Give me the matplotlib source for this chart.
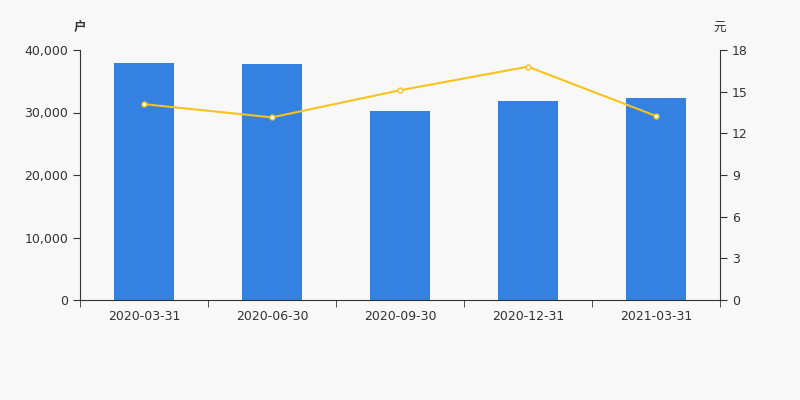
import matplotlib.pyplot as plt
import numpy as np
from matplotlib.ticker import FuncFormatter, FixedLocator

plt.rcParams['font.family'] = ['DejaVu Sans', 'Noto Sans CJK SC']

dates = ['2020-03-31', '2020-06-30', '2020-09-30', '2020-12-31', '2021-03-31']
holders = [38000, 37750, 30300, 31850, 32300]
price = [14.1, 13.15, 15.1, 16.8, 13.25]

fig = plt.figure(figsize=(8, 4), dpi=100, facecolor='#f8f8f8')
ax = fig.add_axes([0.1, 0.25, 0.8, 0.625])
ax.set_facecolor('#f8f8f8')
x = np.arange(len(dates))
ax.bar(x, holders, width=0.47, color='#3481e2', zorder=2)
ax.set_xlim(-0.5, len(dates) - 0.5)
ax.set_ylim(0, 40000)
ax.set_yticks([0, 10000, 20000, 30000, 40000])
ax.yaxis.set_major_formatter(FuncFormatter(lambda v, p: f'{int(v):,}'))
ax.set_xticks(x)
ax.set_xticklabels(dates)
ax.xaxis.set_minor_locator(FixedLocator(np.arange(-0.5, len(dates), 1)))
ax.tick_params(axis='x', which='major', length=0, pad=7, labelsize=9, colors='#333333')
ax.tick_params(axis='x', which='minor', length=5, color='#333333')
ax.tick_params(axis='y', length=5, labelsize=9, colors='#333333')
for s in ['top', 'right']:
    ax.spines[s].set_visible(False)
ax.spines['left'].set_color('#333333')
ax.spines['bottom'].set_color('#333333')

ax2 = ax.twinx()
ax2.plot(x, price, color='#f7c31b', lw=1.5, marker='o', ms=3.5,
         markerfacecolor='white', markeredgecolor='#f7c31b', markeredgewidth=1, zorder=3)
ax2.set_ylim(0, 18)
ax2.set_yticks([0, 3, 6, 9, 12, 15, 18])
ax2.tick_params(axis='y', length=5, labelsize=9, colors='#333333')
for s in ['top', 'left', 'bottom']:
    ax2.spines[s].set_visible(False)
ax2.spines['right'].set_color('#333333')

fig.text(0.1, 0.93, '户', ha='center', va='center', fontsize=9, color='#333333',
         fontweight='bold', family=['Noto Sans CJK SC'])
fig.text(0.9, 0.93, '元', ha='center', va='center', fontsize=9, color='#333333',
         family=['Noto Sans CJK SC'])

fig.savefig('out.png', dpi=100, facecolor=fig.get_facecolor())
plt.close()
